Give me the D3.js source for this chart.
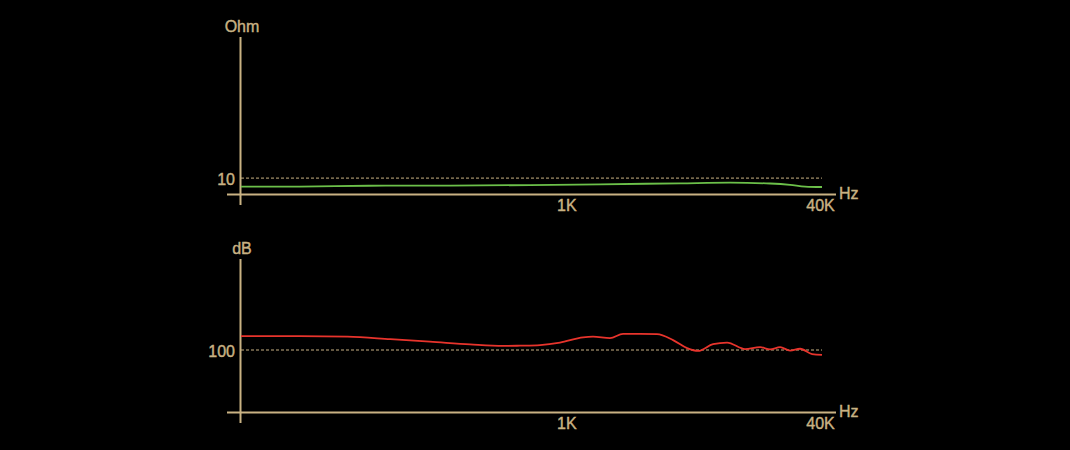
<!DOCTYPE html>
<html>
<head>
<meta charset="utf-8">
<script src="https://cdn.jsdelivr.net/npm/d3@7"></script>
<style>
  body { margin: 0; background: #000; }
  svg { display: block; }
  text { font-family: "Liberation Sans", Arial, sans-serif; fill: #c9b283; stroke: #c9b283; stroke-width: 0.4px; }
</style>
</head>
<body>
<svg class="d3" width="1070" height="450"></svg>
<script>
// frequency response data
var impFreq = [9, 21, 57, 185, 588, 1616, 5140, 10590, 18880, 25220, 31300, 40000];
var impOhm  = [4.6, 4.7, 5.2, 5.3, 5.6, 6.1, 6.7, 7.1, 6.6, 5.8, 4.7, 4.4];

var splFreq = [9, 21, 42, 78, 138, 247, 397, 508, 679, 906, 1265, 1460, 1866, 2253, 2882, 3683,
               4645, 5690, 6670, 8280, 10140, 13150, 16340, 18880, 21820, 25220, 29150, 34650, 40000];
var splDb   = [104.5, 104.5, 104.3, 103.5, 102.7, 101.8, 101.3, 101.4, 101.6, 102.4, 104.1, 104.3, 103.8, 105.2, 105.2, 105.1,
               103.2, 100.6, 99.7, 101.9, 102.4, 100.3, 100.9, 100.2, 100.9, 99.8, 100.4, 98.7, 98.4];

var freqDomain = [9, 40000];
var xTicks = [1000, 40000];
var xTickLabels = ["1K", "40K"];

var svg = d3.select("svg.d3");
var axisColor = "#c9b283";

var x = d3.scaleLog().domain(freqDomain).range([241, 822]);

function panel(opts) {
  var g = svg.append("g");
  var y = d3.scaleLinear().domain(opts.domain).range(opts.range);
  var y0 = opts.range[0];

  // reference dashed line
  g.append("line")
      .attr("x1", x(freqDomain[0])).attr("x2", x(freqDomain[1]))
      .attr("y1", y(opts.ref)).attr("y2", y(opts.ref))
      .attr("stroke", axisColor).attr("stroke-width", 1)
      .attr("stroke-dasharray", "3,2");

  g.append("text")
      .attr("x", 235).attr("y", y(opts.ref) + 6.5)
      .attr("text-anchor", "end").attr("font-size", 16)
      .text(opts.ref);

  // axes
  g.append("line")
      .attr("x1", 240.5).attr("x2", 240.5)
      .attr("y1", opts.range[1] + 2).attr("y2", y0 + 11)
      .attr("stroke", axisColor).attr("stroke-width", 2);
  g.append("line")
      .attr("x1", 227).attr("x2", 836)
      .attr("y1", y0 + 0.5).attr("y2", y0 + 0.5)
      .attr("stroke", axisColor).attr("stroke-width", 2);

  g.append("text")
      .attr("x", 242).attr("y", opts.range[1] - 3)
      .attr("text-anchor", "middle").attr("font-size", 16)
      .text(opts.unit);
  g.append("text")
      .attr("x", 839).attr("y", y0 + 5)
      .attr("font-size", 16)
      .text("Hz");

  g.selectAll(".xt").data(xTicks).enter().append("text")
      .attr("x", function(d) { return x(d) - (d === 40000 ? 1.5 : 0); })
      .attr("y", y0 + 17)
      .attr("text-anchor", "middle").attr("font-size", 16)
      .text(function(d, i) { return xTickLabels[i]; });

  var line = d3.line()
      .x(function(d) { return x(d[0]); })
      .y(function(d) { return y(d[1]); })
      .curve(d3.curveMonotoneX);

  g.append("path")
      .datum(d3.zip(opts.freq, opts.vals))
      .attr("d", line)
      .attr("fill", "none")
      .attr("stroke", opts.color)
      .attr("stroke-width", 1.8);
}

panel({ domain: [0, 100], range: [194, 35], ref: 10, unit: "Ohm",
        freq: impFreq, vals: impOhm, color: "#6cc04a" });
panel({ domain: [80, 130], range: [412, 257], ref: 100, unit: "dB",
        freq: splFreq, vals: splDb, color: "#e8342c" });
</script>
</body>
</html>
